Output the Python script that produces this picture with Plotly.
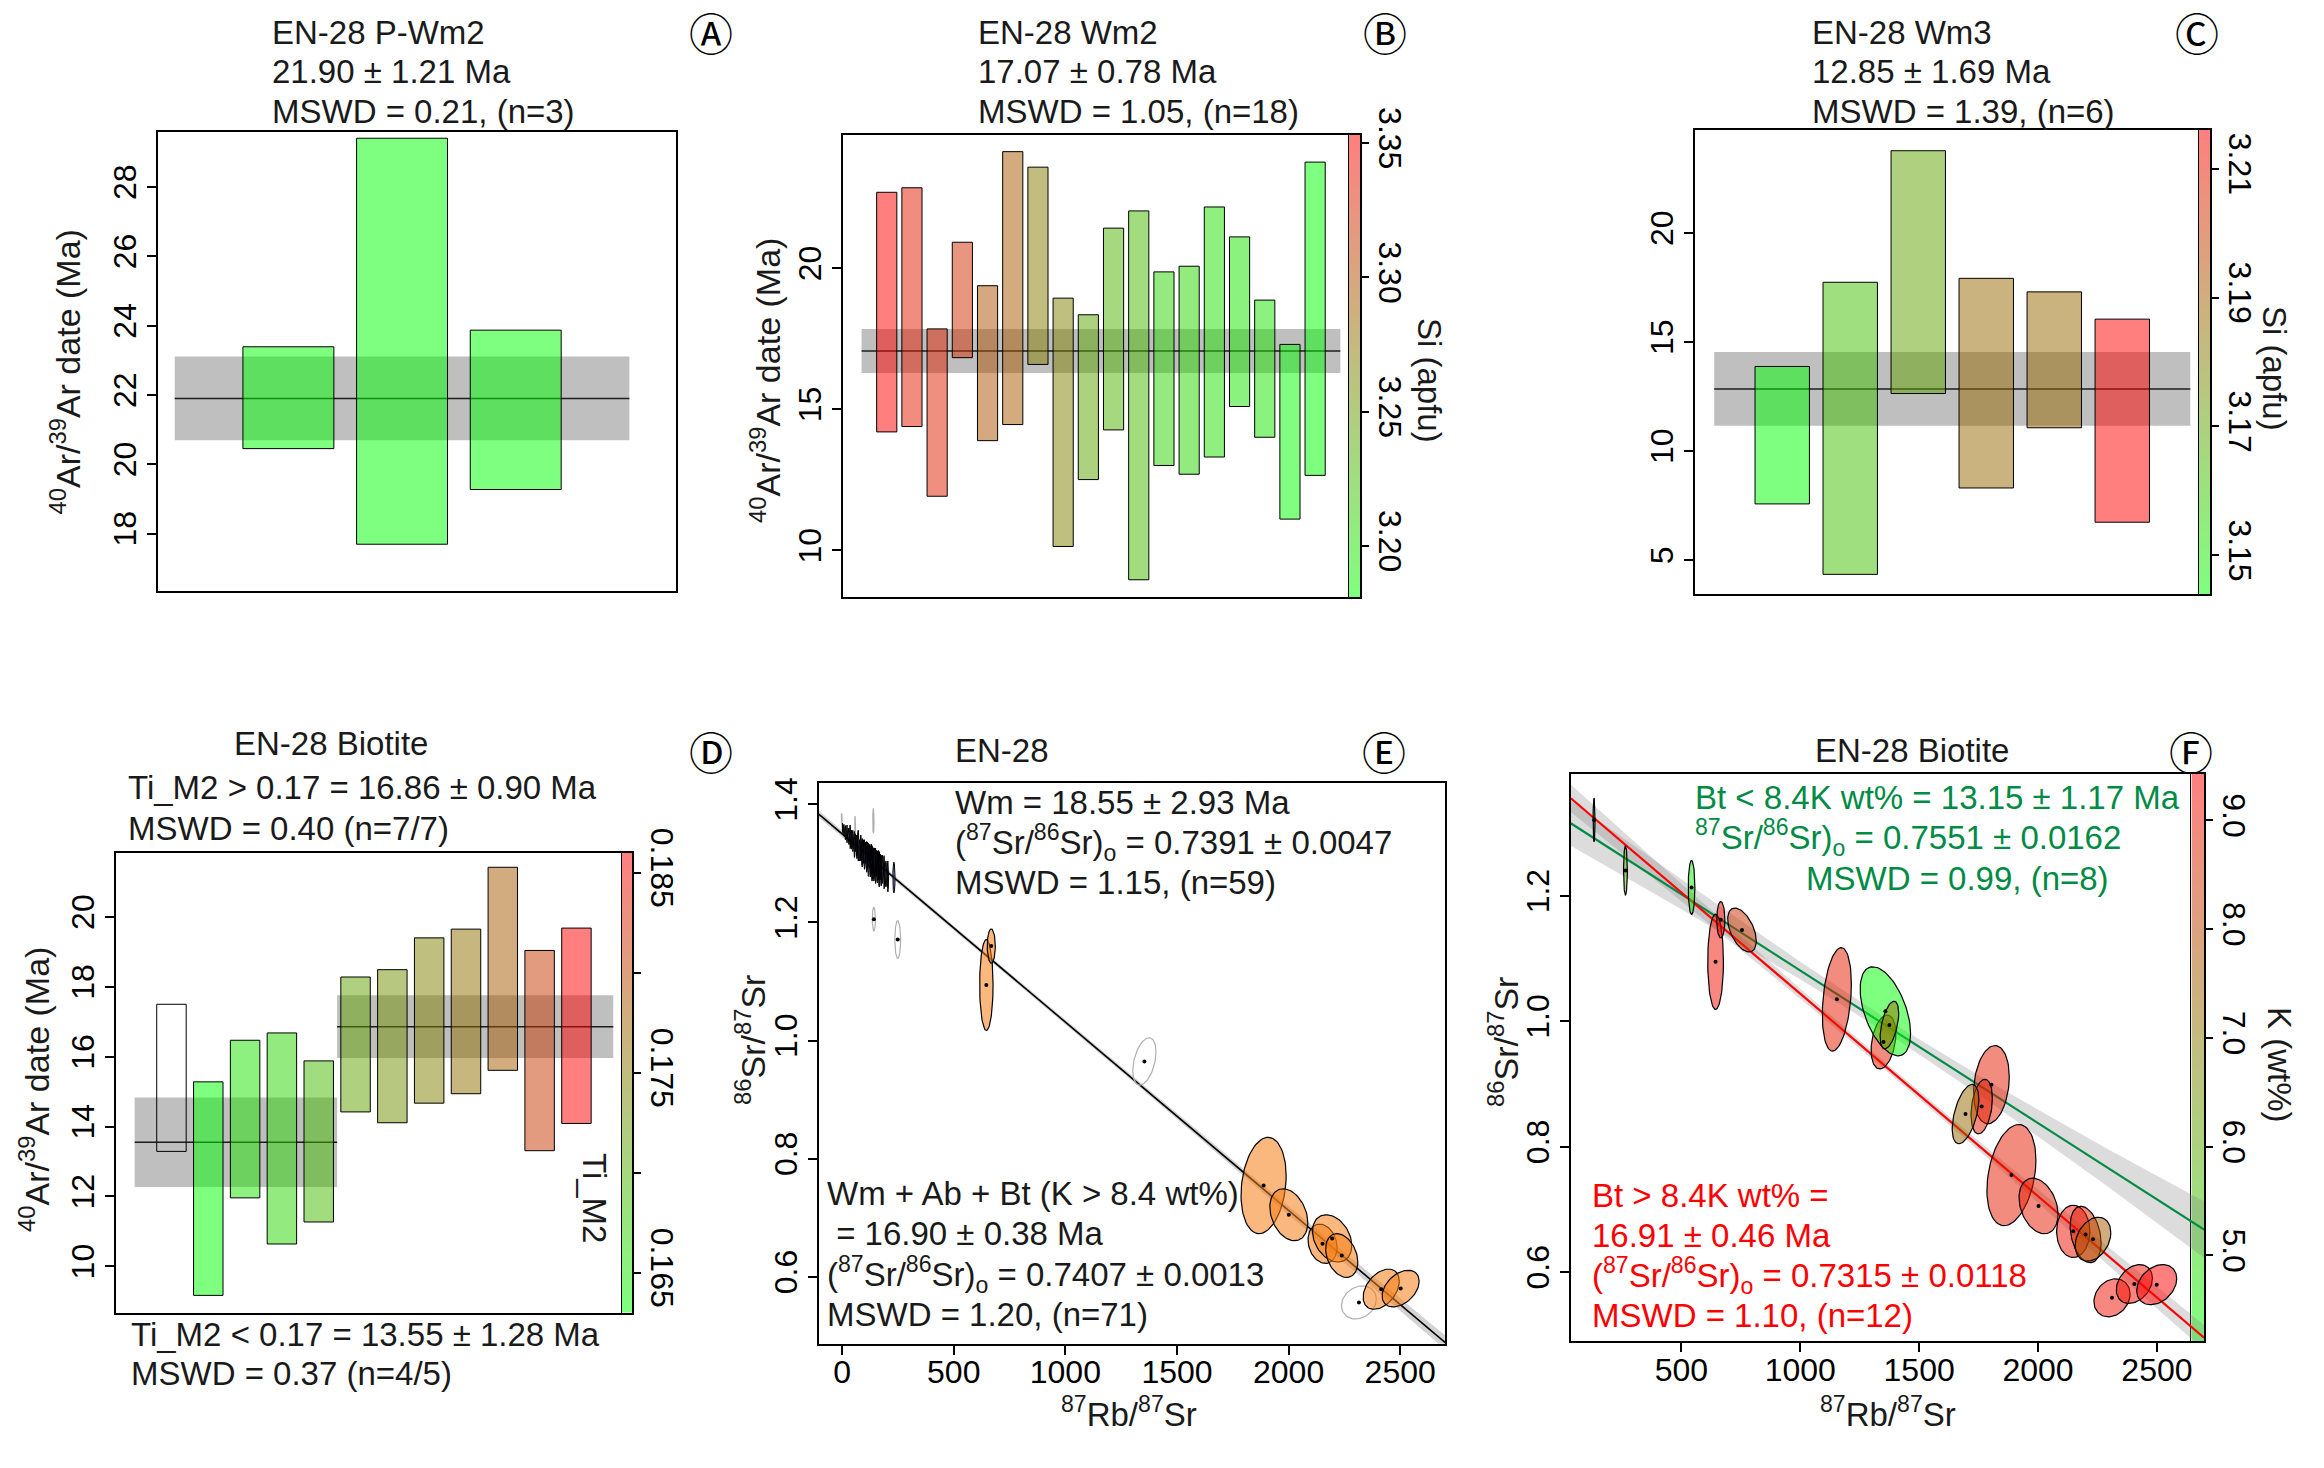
import numpy as np
import plotly.graph_objects as go

W, H = 2324, 1468
OFF = 8  # page body margin of the browser
FONT = "Liberation Sans, Arial, Helvetica, sans-serif"
TXT = "#1a1a1a"
GREEN_TXT = "#008B45"

# ---------------- data ----------------
# Panel A  (EN-28 P-Wm2)
a_lo = [20.45, 17.69, 19.27]
a_hi = [23.39, 29.41, 23.87]
a_mean, a_err = 21.90, 1.21

# Panel B  (EN-28 Wm2)
b_lo = [14.20, 14.39, 11.92, 16.83, 13.89, 14.46, 16.59, 10.14, 12.51,
        14.27, 8.96, 13.01, 12.70, 13.31, 15.10, 14.01, 11.11, 12.66]
b_hi = [22.69, 22.85, 17.85, 20.92, 19.38, 24.13, 23.58, 18.94, 18.35,
        21.42, 22.03, 19.87, 20.07, 22.17, 21.11, 18.87, 17.30, 23.76]
b_si = [3.353, 3.336, 3.332, 3.322, 3.298, 3.295, 3.270, 3.267, 3.241,
        3.233, 3.226, 3.209, 3.207, 3.202, 3.198, 3.198, 3.184, 3.181]
b_mean, b_err = 17.07, 0.78

# Panel C  (EN-28 Wm3)
c_lo = [7.58, 4.35, 12.64, 8.31, 11.07, 6.74]
c_hi = [13.88, 17.74, 23.77, 17.92, 17.30, 16.05]
c_si = [3.144, 3.162, 3.1705, 3.187, 3.187, 3.216]
c_mean, c_err = 12.85, 1.69

# Panel D  (EN-28 Biotite)
d_lo = [13.29, 9.17, 11.96, 10.64, 11.27, 14.42, 14.11, 14.67, 14.94, 15.61, 13.31, 14.09]
d_hi = [17.50, 15.28, 16.47, 16.68, 15.88, 18.28, 18.49, 19.40, 19.65, 21.42, 19.04, 19.68]
d_ti = [None, 0.163, 0.1655, 0.1665, 0.169, 0.1715, 0.173, 0.1745, 0.176, 0.178, 0.181, 0.186]
d_low_n = 5
d_low_mean, d_low_err = 13.55, 1.28
d_high_mean, d_high_err = 16.86, 0.90

# Panel E  (EN-28 isochron)
e_wm_x = [2, 8, 15, 22, 30, 36, 42, 48, 55, 60, 66, 72, 78, 84, 90, 95, 100, 105, 110, 114,
          118, 122, 126, 130, 134, 138, 142, 146, 150, 154, 158, 162, 166, 170, 175, 180, 188, 196, 205, 232]
e_wm_y = [1.360, 1.356, 1.352, 1.350, 1.346, 1.345, 1.340, 1.338, 1.332, 1.335, 1.328, 1.330, 1.322,
          1.326, 1.318, 1.320, 1.315, 1.318, 1.311, 1.314, 1.306, 1.312, 1.303, 1.309, 1.300, 1.305,
          1.298, 1.302, 1.296, 1.300, 1.294, 1.297, 1.290, 1.294, 1.288, 1.290, 1.285, 1.282, 1.278, 1.276]
e_wm_sx = [2, 2, 3, 2, 3, 3, 2, 3, 3, 2, 3, 4, 3, 3, 4, 3, 4, 3, 4, 3,
           4, 4, 3, 4, 4, 3, 4, 4, 3, 4, 4, 3, 4, 4, 3, 4, 3, 4, 3, 5]
e_wm_sy = [0.008, 0.010, 0.012, 0.015, 0.014, 0.020, 0.016, 0.018, 0.022, 0.015, 0.020, 0.026, 0.018,
           0.022, 0.024, 0.020, 0.025, 0.018, 0.026, 0.022, 0.028, 0.020, 0.026, 0.024, 0.030, 0.022,
           0.028, 0.024, 0.030, 0.022, 0.027, 0.025, 0.030, 0.022, 0.026, 0.024, 0.028, 0.022, 0.026, 0.026]
e_wm_blue = [4, 12, 20, 27, 39]

e_or_x = [646, 668, 1888, 2001, 2152, 2195, 2238, 2415, 2502]
e_or_y = [1.094, 1.160, 0.7546, 0.705, 0.656, 0.665, 0.636, 0.579, 0.580]
e_or_sx = [30, 18, 101, 85, 65, 88, 72, 81, 83]
e_or_sy = [0.077, 0.029, 0.0815, 0.044, 0.0333, 0.040, 0.037, 0.034, 0.031]
e_or_rho = [0.0, 0.0, 0.2, -0.3, -0.2, -0.3, -0.3, 0.4, 0.4]

e_ex_x = [-2, 58, 140, 142, 249, 1354, 2315]
e_ex_y = [1.376, 1.361, 1.372, 1.2056, 1.171, 0.9647, 0.5566]
e_ex_sx = [2, 2, 3, 7, 13, 52, 78]
e_ex_sy = [0.009, 0.019, 0.021, 0.020, 0.032, 0.040, 0.028]
e_ex_rho = [0, 0, 0, 0, 0, 0.4, 0.2]
e_ex_dot = [False, False, False, True, True, True, True]

e_age, e_r0 = 16.90, 0.7407
e_env_x = [-105, 300, 800, 1300, 1800, 2300, 2702]
e_env_hw = [0.006, 0.004, 0.0035, 0.004, 0.006, 0.009, 0.012]

# Panel F  (EN-28 Biotite isochron, coloured by K wt%)
f_x = [133, 265, 543, 644, 666, 755, 1154, 1350, 1358, 1375, 1804, 1763, 1695, 1888, 2002,
       2148, 2200, 2231, 2311, 2405, 2499]
f_y = [1.321, 1.2405, 1.2135, 1.095, 1.162, 1.1456, 1.035, 0.967, 1.016, 0.994, 0.899, 0.864,
       0.852, 0.7547, 0.7055, 0.665, 0.660, 0.6525, 0.559, 0.581, 0.580]
f_sx = [4, 8, 14, 33, 17, 60, 61, 52, 106, 39, 75, 45, 56, 103, 82, 70, 65, 75, 76, 76, 84]
f_sy = [0.035, 0.039, 0.043, 0.076, 0.029, 0.035, 0.0825, 0.043, 0.071, 0.038, 0.0624, 0.0435,
        0.0473, 0.0806, 0.0443, 0.0416, 0.045, 0.035, 0.0303, 0.031, 0.032]
f_rho = [0, 0, 0, 0, 0, -0.5, 0.3, 0.3, -0.5, 0.5, 0.2, 0.3, 0.5, 0.3, -0.3, 0, -0.3, 0.3, 0.2, 0.3, 0.3]
f_k = [4.8, 5.6, 4.5, 9.1, 9.3, 8.4, 8.9, 8.9, 4.21, 7.2, 8.9, 8.9, 7.3, 8.9, 8.9,
       9.1, 8.9, 7.6, 9.1, 9.2, 9.43]

f_red_age, f_red_r0 = 16.91, 0.7315
f_grn_age, f_grn_r0 = 13.15, 0.7551
f_env_x = [35, 500, 1000, 1400, 1800, 2300, 2698]
f_red_hw = [0.022, 0.014, 0.008, 0.006, 0.008, 0.014, 0.020]
f_grn_hw = [0.036, 0.024, 0.014, 0.011, 0.016, 0.030, 0.045]

LAMBDA_RB = 1.3972e-5  # per Ma


# ---------------- helpers ----------------
def fx(p):
    return (p - OFF) / W


def fy(p):
    return 1 - (p - OFF) / H


def ramp(v, lo, hi, a=0.5):
    t = (v - lo) / (hi - lo)
    t = min(max(t, 0), 1)
    return f"rgba({255 * t:.0f},{255 * (1 - t):.0f},0,{a})"


RAMP_SCALE = [[0, "rgba(0,255,0,0.5)"], [1, "rgba(255,0,0,0.5)"]]

fig = go.Figure()
layout_axes = {}


def ax_name(i):
    return "" if i == 1 else str(i)


def add_axes(i, xdom, ydom, xr, yr, xkw=None, ykw=None):
    n = ax_name(i)
    xbase = dict(domain=[fx(xdom[0]), fx(xdom[1])], range=xr, anchor="y" + n,
                 showgrid=False, zeroline=False, showline=True, mirror=True,
                 linecolor="black", linewidth=2, ticks="", showticklabels=False,
                 fixedrange=True, automargin=False)
    ybase = dict(domain=[fy(ydom[1]), fy(ydom[0])], range=yr, anchor="x" + n,
                 showgrid=False, zeroline=False, showline=True, mirror=True,
                 linecolor="black", linewidth=2, ticks="", showticklabels=False,
                 fixedrange=True, automargin=False)
    if xkw:
        xbase.update(xkw)
    if ykw:
        ybase.update(ykw)
    layout_axes["xaxis" + n] = xbase
    layout_axes["yaxis" + n] = ybase
    return "x" + n, "y" + n


TICKFONT = dict(family=FONT, size=32, color="black")


def yticks(vals, fmt=None, text=None):
    d = dict(ticks="outside", ticklen=9, tickwidth=1.5, tickcolor="black",
             tickvals=vals, showticklabels=True, tickangle=-90,
             tickfont=TICKFONT, ticklabelstandoff=-2)
    if fmt:
        d["tickformat"] = fmt
    if text:
        d["ticktext"] = text
    return d


def xticks(vals):
    return dict(ticks="outside", ticklen=9, tickwidth=1.5, tickcolor="black",
                tickvals=vals, showticklabels=True, tickfont=TICKFONT,
                ticklabelstandoff=-10)


def cbticks(vals, fmt=None, text=None):
    d = dict(side="right", ticks="outside", ticklen=8, tickwidth=1.5, tickcolor="black",
             tickvals=vals, showticklabels=True, tickangle=90, tickfont=TICKFONT,
             ticklabelstandoff=-3, linewidth=1)
    if fmt:
        d["tickformat"] = fmt
    if text:
        d["ticktext"] = text
    return d


# ---- colour bar subplots first (drawn underneath) ----
def add_colorbar(i, xdom, ydom, lo, hi, ykw):
    xa, ya = add_axes(i, xdom, ydom, [-0.5, 0.5], [lo, hi], xkw=dict(linewidth=1), ykw=ykw)
    zs = np.linspace(lo, hi, 121)
    fig.add_trace(go.Heatmap(z=[[v] for v in zs], x=[0], y=zs, colorscale=RAMP_SCALE,
                             zmin=lo, zmax=hi, showscale=False, hoverinfo="skip",
                             xaxis=xa, yaxis=ya))


add_colorbar(1, (1349, 1360), (135, 597), min(b_si), max(b_si),
             cbticks([3.20, 3.25, 3.30, 3.35], fmt=".2f"))
add_colorbar(2, (2199, 2210), (130, 594), min(c_si), max(c_si),
             cbticks([3.15, 3.17, 3.19, 3.21], fmt=".2f"))
d_ti_vals = [v for v in d_ti if v is not None]
add_colorbar(3, (622, 632.4), (852.6, 1312.5), min(d_ti_vals), max(d_ti_vals),
             cbticks([0.165, 0.170, 0.175, 0.180, 0.185],
                     text=["0.165", "", "0.175", "", "0.185"]))
add_colorbar(4, (2191.4, 2204), (773.5, 1341.4), min(f_k), max(f_k),
             cbticks([5, 6, 7, 8, 9], fmt=".1f"))


# ---- bar (age spectrum style) panels ----
def band(xa, ya, x0, x1, mean, err):
    fig.add_trace(go.Scatter(x=[x0, x1, x1, x0, x0],
                             y=[mean - err, mean - err, mean + err, mean + err, mean - err],
                             mode="lines", fill="toself", fillcolor="rgba(128,128,128,0.5)",
                             line=dict(width=0), hoverinfo="skip", xaxis=xa, yaxis=ya))
    fig.add_trace(go.Scatter(x=[x0, x1], y=[mean, mean], mode="lines",
                             line=dict(color="rgba(0,0,0,0.85)", width=1.5),
                             hoverinfo="skip", xaxis=xa, yaxis=ya))


def bars(xa, ya, lo, hi, colors):
    for i, (l, h, c) in enumerate(zip(lo, hi, colors), start=1):
        fig.add_trace(go.Scatter(x=[i - 0.4, i + 0.4, i + 0.4, i - 0.4, i - 0.4],
                                 y=[l, l, h, h, l], mode="lines", fill="toself",
                                 fillcolor=c, line=dict(color="black", width=1),
                                 hoverinfo="skip", xaxis=xa, yaxis=ya))


# A
xa, ya = add_axes(5, (158, 676), (132, 591), [-0.147, 4.41], [16.34, 29.59],
                  ykw=yticks([18, 20, 22, 24, 26, 28]))
band(xa, ya, 0, len(a_lo) + 1, a_mean, a_err)
bars(xa, ya, a_lo, a_hi, ["rgba(0,255,0,0.5)"] * len(a_lo))

# B
xa, ya = add_axes(6, (842.5, 1360), (135, 597), [-0.756, 19.78], [8.35, 24.72],
                  ykw=yticks([10, 15, 20]))
band(xa, ya, 0, len(b_lo) + 1, b_mean, b_err)
bars(xa, ya, b_lo, b_hi, [ramp(s, min(b_si), max(b_si)) for s in b_si])

# C
xa, ya = add_axes(7, (1694.5, 2210), (130, 594), [-0.29, 7.29], [3.45, 24.72],
                  ykw=yticks([5, 10, 15, 20]))
band(xa, ya, 0, len(c_lo) + 1, c_mean, c_err)
bars(xa, ya, c_lo, c_hi, [ramp(s, min(c_si), max(c_si)) for s in c_si])

# D
xa, ya = add_axes(8, (115.5, 632.4), (852.6, 1312.5), [-0.52, 13.52], [8.68, 21.84],
                  ykw=yticks([10, 12, 14, 16, 18, 20]))
band(xa, ya, 0, d_low_n + 0.5, d_low_mean, d_low_err)
band(xa, ya, d_low_n + 0.5, len(d_lo) + 1, d_high_mean, d_high_err)
d_cols = [("rgba(0,0,0,0)" if v is None else ramp(v, min(d_ti_vals), max(d_ti_vals))) for v in d_ti]
bars(xa, ya, d_lo, d_hi, d_cols)


# ---- isochron panels ----
def ellipse(xa, ya, cx, cy, sx, sy, rho, fill, line="black", lw=1):
    t = np.linspace(0, 2 * np.pi, 80)
    ex = cx + sx * np.cos(t)
    ey = cy + sy * (rho * np.cos(t) + np.sqrt(1 - rho ** 2) * np.sin(t))
    fig.add_trace(go.Scatter(x=ex, y=ey, mode="lines", fill="toself", fillcolor=fill,
                             line=dict(color=line, width=lw), hoverinfo="skip",
                             xaxis=xa, yaxis=ya))


def iso_line(xa, ya, env_x, hw, age, r0, env_col):
    b = 1 / r0
    m = -(np.exp(LAMBDA_RB * age) - 1) / r0
    ex = np.array(env_x, dtype=float)
    yl = b + m * ex
    up = yl + np.array(hw)
    dn = yl - np.array(hw)
    fig.add_trace(go.Scatter(x=np.concatenate([ex, ex[::-1]]), y=np.concatenate([up, dn[::-1]]),
                             mode="lines", fill="toself", fillcolor=env_col,
                             line=dict(width=0), hoverinfo="skip", xaxis=xa, yaxis=ya))
    return ex, yl


def dots(xa, ya, xs, ys):
    fig.add_trace(go.Scatter(x=xs, y=ys, mode="markers",
                             marker=dict(color="black", size=4), hoverinfo="skip",
                             xaxis=xa, yaxis=ya))


# E
xa, ya = add_axes(9, (818.6, 1445.3), (783, 1343.7), [-105.5, 2702], [0.4867, 1.4361],
                  xkw=xticks([0, 500, 1000, 1500, 2000, 2500]),
                  ykw=yticks([0.6, 0.8, 1.0, 1.2, 1.4], fmt=".1f"))
ex, yl = iso_line(xa, ya, e_env_x, e_env_hw, e_age, e_r0, "rgba(128,128,128,0.35)")
fig.add_trace(go.Scatter(x=[ex[0], ex[-1]], y=[yl[0], yl[-1]], mode="lines",
                         line=dict(color="black", width=1.6), hoverinfo="skip", xaxis=xa, yaxis=ya))
for i in range(len(e_ex_x)):
    ellipse(xa, ya, e_ex_x[i], e_ex_y[i], e_ex_sx[i], e_ex_sy[i], e_ex_rho[i],
            "rgba(0,0,0,0)", line="rgb(175,175,175)", lw=1.2)
for i in range(len(e_wm_x)):
    fill = "rgba(40,55,190,0.6)" if i in e_wm_blue else "rgba(20,20,60,0.8)"
    ellipse(xa, ya, e_wm_x[i], e_wm_y[i], e_wm_sx[i], e_wm_sy[i], 0, fill, lw=1)
for i in range(len(e_or_x)):
    ellipse(xa, ya, e_or_x[i], e_or_y[i], e_or_sx[i], e_or_sy[i], e_or_rho[i],
            "rgba(245,125,20,0.55)", lw=1.2)
dots(xa, ya, e_or_x + [e_ex_x[i] for i in range(len(e_ex_x)) if e_ex_dot[i]],
     e_or_y + [e_ex_y[i] for i in range(len(e_ex_y)) if e_ex_dot[i]])

# F
xa, ya = add_axes(10, (1570.7, 2204), (773.5, 1341.4), [34.8, 2697.8], [0.4895, 1.3952],
                  xkw=xticks([500, 1000, 1500, 2000, 2500]),
                  ykw=yticks([0.6, 0.8, 1.0, 1.2], fmt=".1f"))
exg, ylg = iso_line(xa, ya, f_env_x, f_grn_hw, f_grn_age, f_grn_r0, "rgba(128,128,128,0.28)")
exr, ylr = iso_line(xa, ya, f_env_x, f_red_hw, f_red_age, f_red_r0, "rgba(128,128,128,0.28)")
fig.add_trace(go.Scatter(x=[exg[0], exg[-1]], y=[ylg[0], ylg[-1]], mode="lines",
                         line=dict(color=GREEN_TXT, width=2.2), hoverinfo="skip", xaxis=xa, yaxis=ya))
fig.add_trace(go.Scatter(x=[exr[0], exr[-1]], y=[ylr[0], ylr[-1]], mode="lines",
                         line=dict(color="red", width=2.2), hoverinfo="skip", xaxis=xa, yaxis=ya))
for i in range(len(f_x)):
    ellipse(xa, ya, f_x[i], f_y[i], f_sx[i], f_sy[i], f_rho[i],
            ramp(f_k[i], min(f_k), max(f_k)), lw=1.2)
dots(xa, ya, f_x, f_y)

# ---------------- annotations ----------------
ann = []


def text(t, x, y, xanchor="left", size=33, color=TXT, angle=0, family=FONT):
    ann.append(dict(text=t, x=fx(x), y=fy(y), xref="paper", yref="paper",
                    xanchor=xanchor, yanchor="middle", showarrow=False, textangle=angle,
                    font=dict(family=family, size=size, color=color)))


SR = "(<sup>87</sup>Sr/<sup>86</sup>Sr)<sub>o</sub>"

for xl, lines in [(270, ["EN-28 P-Wm2", "21.90 ± 1.21 Ma", "MSWD = 0.21, (n=3)"]),
                  (976, ["EN-28 Wm2", "17.07 ± 0.78 Ma", "MSWD = 1.05, (n=18)"]),
                  (1810, ["EN-28 Wm3", "12.85 ± 1.69 Ma", "MSWD = 1.39, (n=6)"])]:
    for yy, t in zip([32, 71.5, 111], lines):
        text(t, xl, yy)

CIRC = "DejaVu Sans, Noto Sans CJK JP, sans-serif"
for t, x, y in [("Ⓐ", 711, 36), ("Ⓑ", 1385, 36), ("Ⓒ", 2197, 36),
                ("Ⓓ", 711, 754), ("Ⓔ", 1384, 754.5), ("Ⓕ", 2191, 754.6)]:
    text(t, x, y, xanchor="center", size=44, color="black", family=CIRC)

AR = "<sup>40</sup>Ar/<sup>39</sup>Ar date (Ma)"
text(AR, 65, 372.5, xanchor="center", size=34, angle=-90)
text(AR, 765, 381, xanchor="center", size=34, angle=-90)
text(AR, 34, 1090, xanchor="center", size=34, angle=-90)
text("<sup>86</sup>Sr/<sup>87</sup>Sr", 750, 1040, xanchor="center", size=34, angle=-90)
text("<sup>86</sup>Sr/<sup>87</sup>Sr", 1503, 1042, xanchor="center", size=34, angle=-90)
text("<sup>87</sup>Rb/<sup>87</sup>Sr", 1129, 1412, xanchor="center", size=33)
text("<sup>87</sup>Rb/<sup>87</sup>Sr", 1888, 1412, xanchor="center", size=33)

text("Si (apfu)", 1430, 380, xanchor="center", size=33, angle=90)
text("Si (apfu)", 2275, 368, xanchor="center", size=33, angle=90)
text("Ti_M2", 595, 1198, xanchor="center", size=33, angle=90)
text("K (wt%)", 2280, 1065, xanchor="center", size=33, angle=90)

# D
text("EN-28 Biotite", 331, 743.5, xanchor="center")
text("Ti_M2 > 0.17 = 16.86 ± 0.90 Ma", 126, 787.5)
text("MSWD = 0.40 (n=7/7)", 126, 828)
text("Ti_M2 < 0.17 = 13.55 ± 1.28 Ma", 129, 1334)
text("MSWD = 0.37 (n=4/5)", 129, 1373)

# E
text("EN-28", 1002, 750, xanchor="center")
text("Wm = 18.55 ± 2.93 Ma", 953, 802)
text(SR + " = 0.7391 ± 0.0047", 953, 842)
text("MSWD = 1.15, (n=59)", 953, 882.6)
text("Wm + Ab + Bt (K > 8.4 wt%)", 824.6, 1193)
text(" = 16.90 ± 0.38 Ma", 824.6, 1233)
text(SR + " = 0.7407 ± 0.0013", 824.6, 1274)
text("MSWD = 1.20, (n=71)", 824.6, 1314)

# F
text("EN-28 Biotite", 1912, 750, xanchor="center")
text("Bt < 8.4K wt% = 13.15 ± 1.17 Ma", 1693, 797, color=GREEN_TXT)
text("<sup>87</sup>Sr/<sup>86</sup>Sr)<sub>o</sub> = 0.7551 ± 0.0162", 1693, 837.6, color=GREEN_TXT)
text("MSWD = 0.99, (n=8)", 1804, 878, color=GREEN_TXT)
text("Bt > 8.4K wt% =", 1590, 1195, color="red")
text("16.91 ± 0.46 Ma", 1590, 1235, color="red")
text(SR + " = 0.7315 ± 0.0118", 1590, 1275.5, color="red")
text("MSWD = 1.10, (n=12)", 1590, 1315, color="red")

fig.update_layout(template="none", width=W, height=H, margin=dict(l=0, r=0, t=0, b=0, pad=0),
                  paper_bgcolor="white", plot_bgcolor="rgba(0,0,0,0)",
                  showlegend=False, hovermode=False, annotations=ann,
                  font=dict(family=FONT, color=TXT), **layout_axes)

fig.write_html("out.html")
